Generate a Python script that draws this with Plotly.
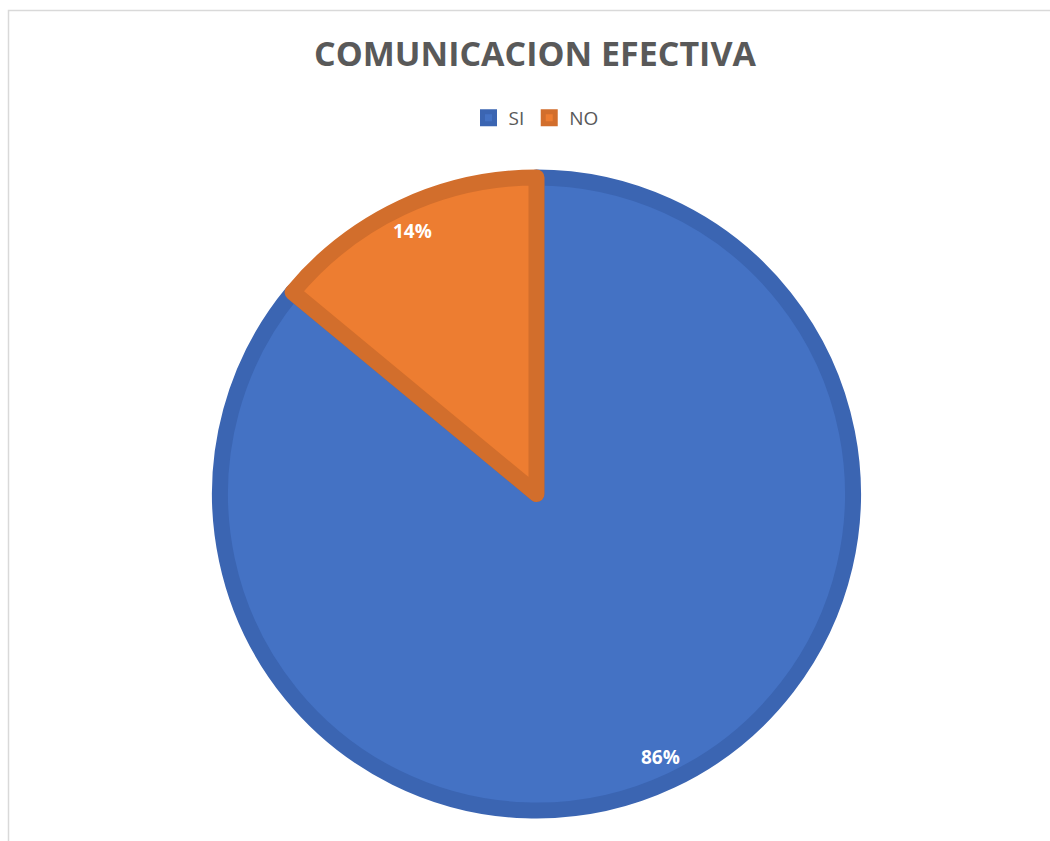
import math
import plotly.graph_objects as go

# Survey answers and their shares (%)
labels = ["SI", "NO"]
values = [86, 14]
fill_colors = ["#4472C4", "#ED7D31"]
edge_colors = ["#3B65B2", "#D26E2C"]

W, H = 1050, 841
CX, CY = 536.5, 494.0        # pie centre in pixels (from top-left)
R_OUT = 324.5                # outer radius including the edge band
EDGE = 16                    # edge line width
R = R_OUT - EDGE / 2         # geometric radius of the pie
LABEL_R = 291                # radius where the percentage labels sit

fig = go.Figure()

fig.add_trace(go.Pie(
    labels=labels,
    values=values,
    sort=False,
    direction="clockwise",
    rotation=0,
    marker=dict(colors=fill_colors, line=dict(color=edge_colors, width=EDGE)),
    textinfo="none",
    hoverinfo="label+percent",
    domain=dict(
        x=[(CX - R - 60) / W, (CX + R + 60) / W],
        y=[(H - CY - R) / H, (H - CY + R) / H],
    ),
))

# percentage labels placed along each slice's middle angle
total = sum(values)
start = 0.0
for lab, v in zip(labels, values):
    mid = start + v / total * 360 / 2
    start += v / total * 360
    theta = math.radians(mid)
    px = CX + LABEL_R * math.sin(theta)
    py = CY - LABEL_R * math.cos(theta)
    fig.add_annotation(
        x=px / W, y=1 - py / H, xref="paper", yref="paper",
        text=f"<b>{round(v / total * 100)}%</b>", showarrow=False,
        font=dict(family="Open Sans", size=19, color="#FFFFFF"),
        xanchor="center", yanchor="middle",
    )

# chart area frame
fig.add_shape(
    type="rect", xref="paper", yref="paper",
    x0=8.5 / W, x1=1.02, y0=-0.02, y1=1 - 10.5 / H,
    line=dict(color="#D9D9D9", width=1.5), fillcolor="rgba(0,0,0,0)",
)

fig.update_layout(
    width=W, height=H,
    margin=dict(l=0, r=0, t=0, b=0),
    paper_bgcolor="#FFFFFF",
    plot_bgcolor="#FFFFFF",
    title=dict(
        text="<b>COMUNICACION EFECTIVA</b>",
        x=535 / W, xanchor="center",
        y=1 - 54 / H, yanchor="middle",
        font=dict(family="Open Sans", size=34, color="#595959"),
    ),
    legend=dict(
        orientation="h",
        x=536 / W, xanchor="center",
        y=1 - 118 / H, yanchor="middle",
        font=dict(family="Open Sans", size=19, color="#595959"),
        itemclick=False,
        itemwidth=30,
        traceorder="normal",
    ),
    showlegend=True,
)

fig.write_html("out.html")
